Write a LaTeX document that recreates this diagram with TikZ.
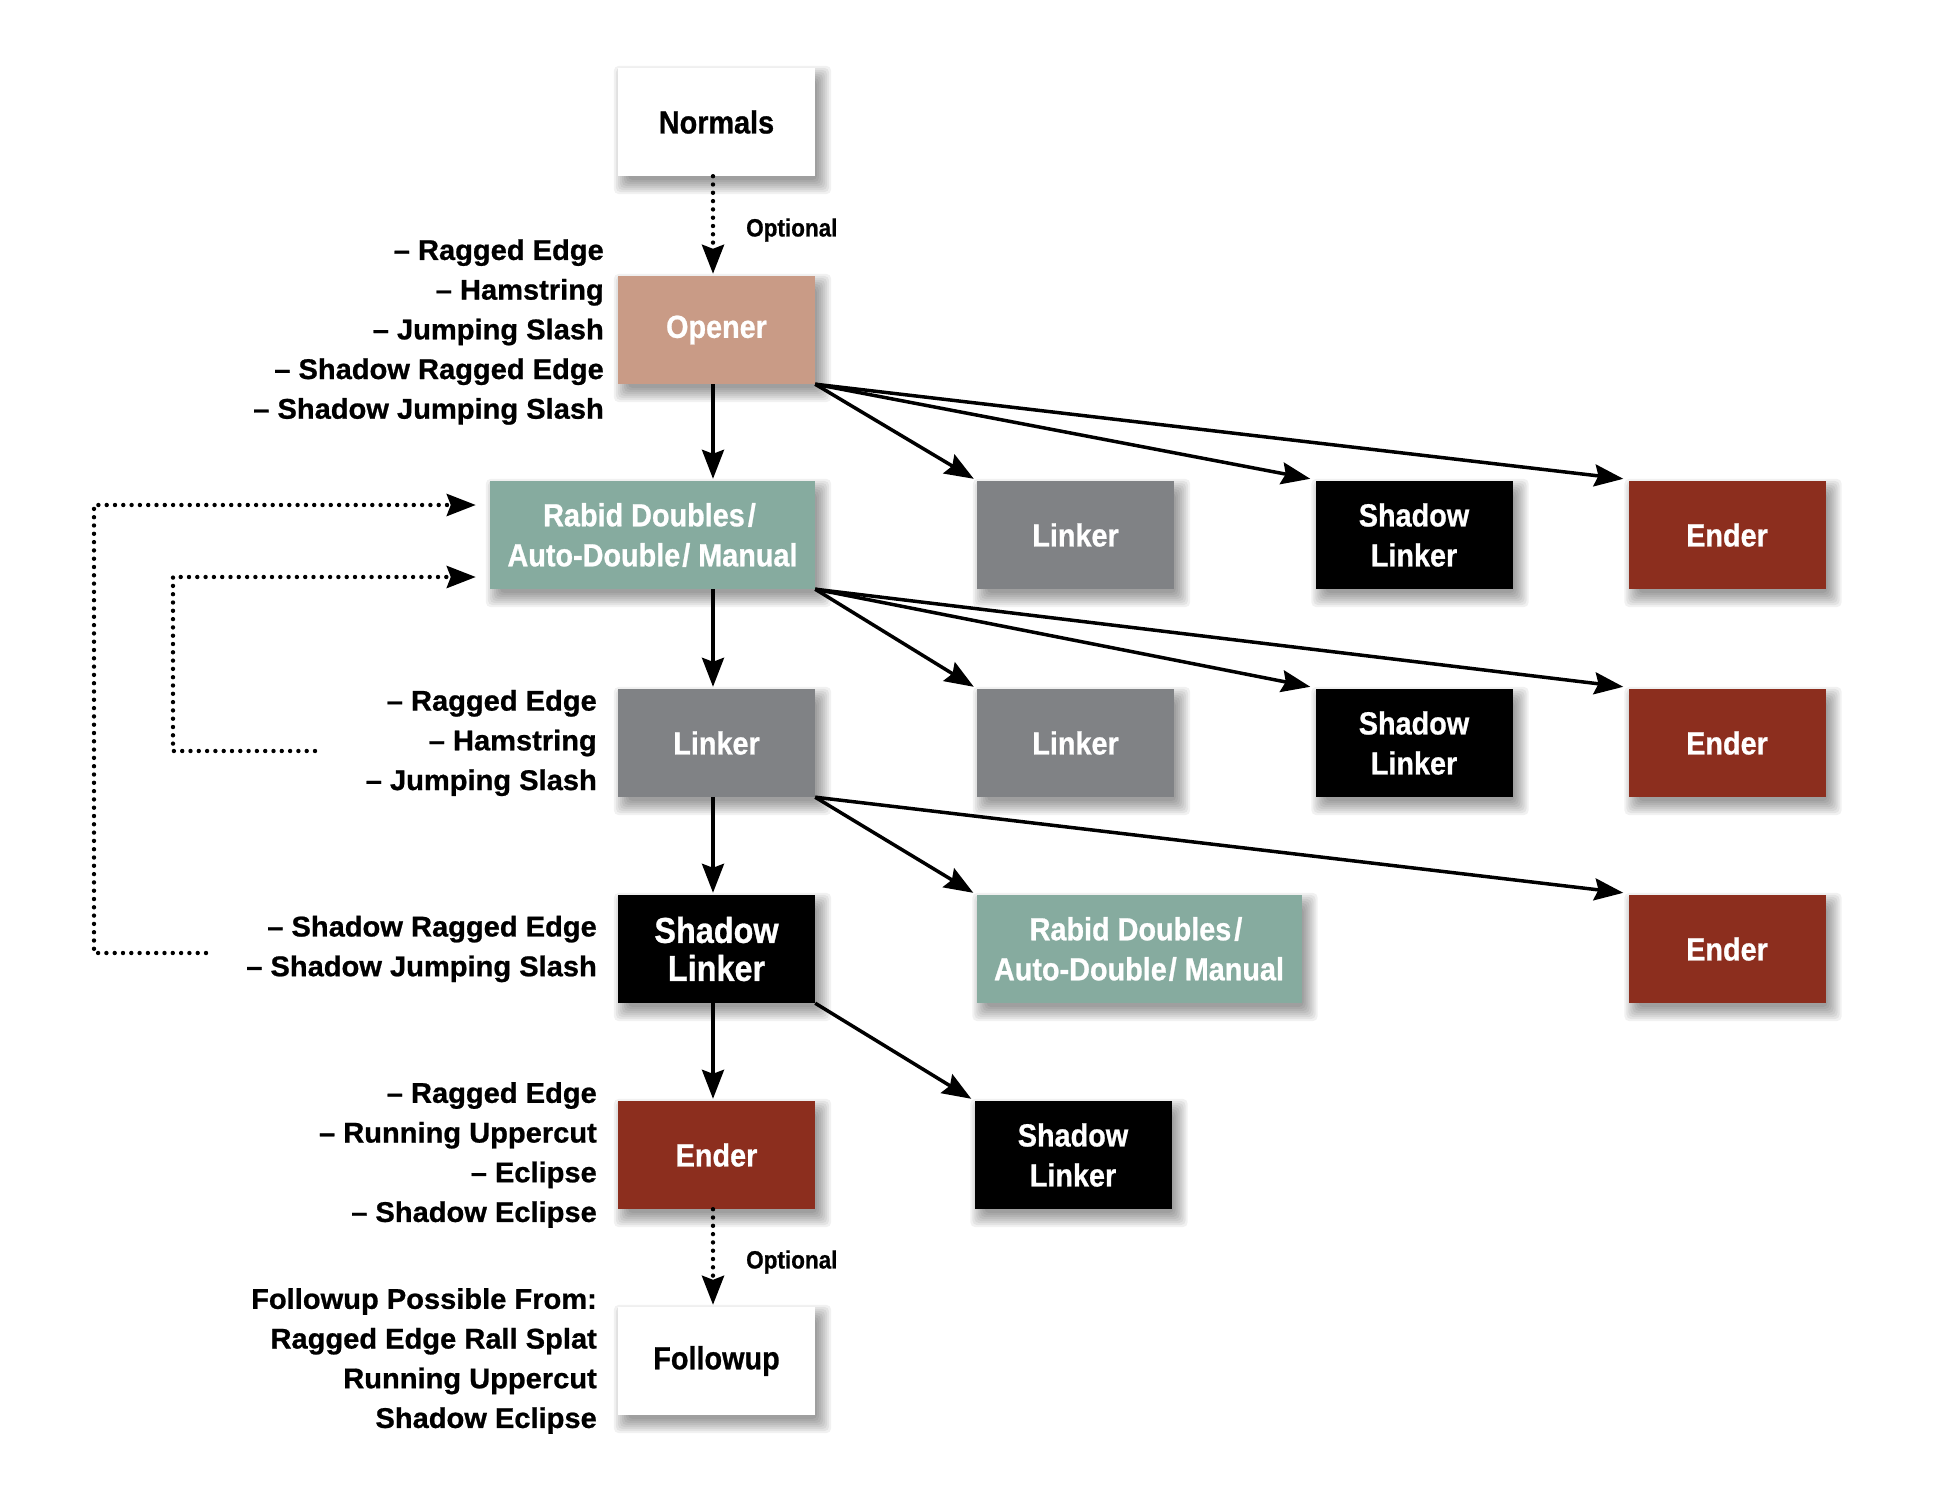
\documentclass[tikz,border=0pt]{standalone}
\usepackage{fontspec}
\setmainfont{Liberation Sans}
\newfontfamily\boxfont{Liberation Sans Bold}[FakeStretch=0.9, FakeBold=0.8]
\newfontfamily\labfont{Liberation Sans Bold}[FakeStretch=1.02, FakeBold=0.8]
\usetikzlibrary{arrows.meta,calc}
\pgfdeclarelayer{bg}
\pgfsetlayers{bg,main}
\definecolor{openerc}{HTML}{C99B86}
\definecolor{rabidc}{HTML}{86AB9F}
\definecolor{linkerc}{HTML}{808285}
\definecolor{enderc}{HTML}{8C2E1E}
\tikzset{
  box/.style={minimum width=197pt, minimum height=108pt, inner sep=0pt, align=center,
    text=white, font=\boxfont\fontsize{32}{40}\selectfont},
  widebox/.style={box, minimum width=325pt},
  whitebox/.style={box, fill=white, text=black},
  openbox/.style={box, fill=openerc},
  rabidbox/.style={widebox, fill=rabidc},
  linkbox/.style={box, fill=linkerc},
  shadbox/.style={box, fill=black},
  endbox/.style={box, fill=enderc},
  shadowlayer/.style={fill=black, fill opacity=0.055, rounded corners=5pt},
  movelist/.style={anchor=east, align=right, inner sep=0pt, font=\labfont\fontsize{28.5}{39.7}\selectfont},
  optlabel/.style={anchor=west, inner sep=0pt, font=\boxfont\fontsize{25}{30}\selectfont},
  arr/.style={-{Stealth[length=29pt,width=22pt,inset=4pt]}, line width=3.5pt},
  dotarr/.style={arr, line width=4.4pt, line cap=round, dash pattern=on 0pt off 8.3pt}
}
\begin{document}
\begin{tikzpicture}[x=1pt,y=-1pt]
\begin{pgfonlayer}{bg}
\fill[white] (0,0) rectangle (1946,1512);
\end{pgfonlayer}
\useasboundingbox (0,0) rectangle (1946,1512);

% main column
\node[whitebox] (normals) at (716.5,122) {Normals};
\node[openbox] (opener) at (716.5,330) {Opener};
\node[rabidbox] (rabidA) at (652.5,535) {Rabid Doubles\kern3pt/\kern6pt\\Auto-Double\kern2pt/\kern8pt Manual};
\node[linkbox] (linker) at (716.5,743) {Linker};
\node[shadbox, font=\boxfont\fontsize{36}{38}\selectfont] (shadow) at (716.5,949) {Shadow\\Linker};
\node[endbox] (ender) at (716.5,1155) {Ender};
\node[whitebox] (followup) at (716.5,1361) {Followup};

% row 2
\node[linkbox] (linkA) at (1075.5,535) {Linker};
\node[shadbox] (shadA) at (1414,535) {Shadow\\Linker};
\node[endbox] (endA) at (1727,535) {Ender};
% row 3
\node[linkbox] (linkB) at (1075.5,743) {Linker};
\node[shadbox] (shadB) at (1414,743) {Shadow\\Linker};
\node[endbox] (endB) at (1727,743) {Ender};
% row 4
\node[rabidbox] (rabidC) at (1139,949) {Rabid Doubles\kern3pt/\kern6pt\\Auto-Double\kern2pt/\kern8pt Manual};
\node[endbox] (endC) at (1727,949) {Ender};
% row 5
\node[shadbox] (shadD) at (1073,1155) {Shadow\\Linker};

% soft drop shadows
\begin{pgfonlayer}{bg}
\foreach \n in {normals,opener,rabidA,linker,shadow,ender,followup,linkA,shadA,endA,linkB,shadB,endB,rabidC,endC,shadD}{
  \foreach \r in {-4,-2,...,10}{
    \fill[shadowlayer] ($(\n.north west)+(6-\r,8-\r)$) rectangle ($(\n.south east)+(6+\r,8+\r)$);
  }
}
\end{pgfonlayer}

% move lists
\node[movelist] (list1) at (604,332) {– Ragged Edge\\– Hamstring\\– Jumping Slash\\– Shadow Ragged Edge\\– Shadow Jumping Slash};
\node[movelist] (list2) at (597,743) {– Ragged Edge\\– Hamstring\\– Jumping Slash};
\node[movelist] (list3) at (597,949) {– Shadow Ragged Edge\\– Shadow Jumping Slash};
\node[movelist] (list4) at (597,1155) {– Ragged Edge\\– Running Uppercut\\– Eclipse\\– Shadow Eclipse};
\node[movelist] (list5) at (597,1361) {Followup Possible From:\\Ragged Edge Rall Splat\\Running Uppercut\\Shadow Eclipse};

% optional labels
\node[optlabel] (opt1) at (746,230) {Optional};
\node[optlabel] (opt2) at (746,1262) {Optional};

% vertical connectors
\coordinate (colx) at (713,0);
\draw[dotarr] (normals.south -| colx) -- ([yshift=2pt]opener.north -| colx);
\draw[arr] (opener.south -| colx) -- ([yshift=2pt]rabidA.north -| colx);
\draw[arr] (rabidA.south -| colx) -- ([yshift=2pt]linker.north -| colx);
\draw[arr] (linker.south -| colx) -- ([yshift=2pt]shadow.north -| colx);
\draw[arr] (shadow.south -| colx) -- ([yshift=2pt]ender.north -| colx);
\draw[dotarr] (ender.south -| colx) -- ([yshift=2pt]followup.north -| colx);

% diagonal connectors
\draw[arr] (opener.south east) -- ([xshift=-3pt,yshift=2pt]linkA.north west);
\draw[arr] (opener.south east) -- ([xshift=-5pt,yshift=2pt]shadA.north west);
\draw[arr] (opener.south east) -- ([xshift=-5pt,yshift=2pt]endA.north west);
\draw[arr] (rabidA.south east) -- ([xshift=-3pt,yshift=2pt]linkB.north west);
\draw[arr] (rabidA.south east) -- ([xshift=-5pt,yshift=2pt]shadB.north west);
\draw[arr] (rabidA.south east) -- ([xshift=-5pt,yshift=2pt]endB.north west);
\draw[arr] (linker.south east) -- ([xshift=-3pt,yshift=2pt]rabidC.north west);
\draw[arr] (linker.south east) -- ([xshift=-5pt,yshift=2pt]endC.north west);
\draw[arr] (shadow.south east) -- ([xshift=-3pt,yshift=2pt]shadD.north west);

% feedback loops
\coordinate (loopAstart) at (206,953);
\coordinate (loopAcorner) at (94,505);
\coordinate (loopBstart) at (315,751);
\coordinate (loopBcorner) at (173,577);
\draw[dotarr] (loopAstart) -| (loopAcorner) -- ([xshift=-14pt]rabidA.west |- loopAcorner);
\draw[dotarr] (loopBstart) -| (loopBcorner) -- ([xshift=-14pt]rabidA.west |- loopBcorner);
\end{tikzpicture}
\end{document}
